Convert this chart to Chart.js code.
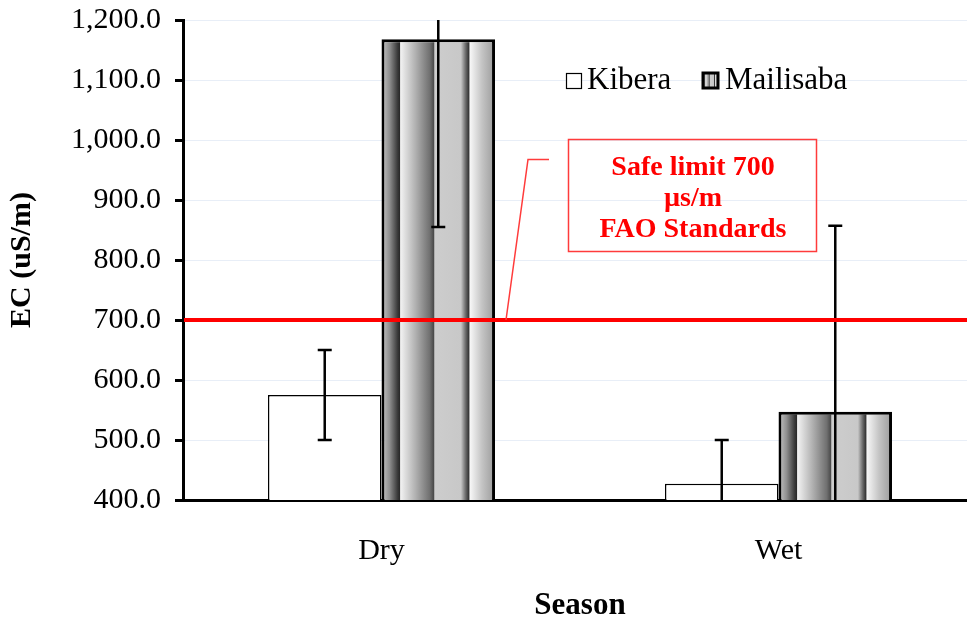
<!DOCTYPE html>
<html>
<head>
<meta charset="utf-8">
<script src="https://cdn.jsdelivr.net/npm/chart.js@4/dist/chart.umd.min.js"></script>
<style>
  html, body { margin: 0; padding: 0; background: #fff; overflow: hidden; }
  #wrap { width: 985px; height: 620px; }
</style>
</head>
<body>
<div id="wrap"><canvas id="c" width="985" height="620"></canvas></div>
<script>
// data
const seasons = ["Dry", "Wet"];
const kibera = [575, 427];
const kiberaLow = [500, 354];
const kiberaHigh = [650, 500];
const mailisaba = [1168, 547];
const mailisabaLow = [855, 237];
const mailisabaHigh = [1481, 857];
const safeLimit = 700;
const calloutLines = ["Safe limit 700", "\u00b5s/m", "FAO Standards"];

const SERIF = "'Liberation Serif', 'Times New Roman', serif";

// striped fill for Mailisaba bars, built across each bar's width
const stripeStops = [
    [0, "#c8c8c8"], [8, "#909090"], [16, "#3a3a3a"], [18, "#2a2a2a"],
    [19, "#f2f2f2"], [34, "#b0b0b0"], [48, "#707070"], [52, "#4a4a4a"],
    [53, "#cdcdcd"], [79, "#c8c8c8"], [84, "#666666"], [87, "#333333"],
    [88, "#f7f7f7"], [100, "#c4c4c4"], [113, "#9a9a9a"]
];

function stripeFill(ctx, x0, w) {
    const g = ctx.createLinearGradient(x0, 0, x0 + w, 0);
    stripeStops.forEach(([p, c]) => g.addColorStop(Math.min(1, p / 113), c));
    return g;
}

// swap the flat grey for the striped gradient once bars have their size
const stripes = {
    id: "stripes",
    beforeDatasetsDraw(chart) {
        chart.getDatasetMeta(1).data.forEach((bar) => {
            const w = bar.width;
            bar.options = Object.assign({}, bar.options, {
                backgroundColor: stripeFill(chart.ctx, bar.x - w / 2, w),
            });
        });
    }
};

const errorBars = {
    id: "errorBars",
    afterDatasetsDraw(chart) {
        const ctx = chart.ctx;
        const y = chart.scales.y;
        const area = chart.chartArea;
        const ranges = [[kiberaLow, kiberaHigh], [mailisabaLow, mailisabaHigh]];
        ctx.save();
        ctx.strokeStyle = "#000";
        ctx.lineWidth = 2.5;
        ranges.forEach(([lo, hi], i) => {
            chart.getDatasetMeta(i).data.forEach((bar, j) => {
                const yl = y.getPixelForValue(lo[j]);
                const yh = y.getPixelForValue(hi[j]);
                const a = Math.max(yh, area.top);
                const b = Math.min(yl, area.bottom);
                ctx.beginPath();
                ctx.moveTo(bar.x, a);
                ctx.lineTo(bar.x, b);
                if (yh >= area.top) { ctx.moveTo(bar.x - 7, yh); ctx.lineTo(bar.x + 7, yh); }
                if (yl <= area.bottom) { ctx.moveTo(bar.x - 7, yl); ctx.lineTo(bar.x + 7, yl); }
                ctx.stroke();
            });
        });
        ctx.restore();
    }
};

const extras = {
    id: "extras",
    afterDraw(chart) {
        const ctx = chart.ctx;
        const area = chart.chartArea;
        const yLine = chart.scales.y.getPixelForValue(safeLimit);
        ctx.save();

        // safe limit line
        ctx.strokeStyle = "#ff0000";
        ctx.lineWidth = 4;
        ctx.beginPath();
        ctx.moveTo(area.left + 1, yLine);
        ctx.lineTo(area.right, yLine);
        ctx.stroke();

        // callout leader + box
        ctx.strokeStyle = "#ff3b3b";
        ctx.lineWidth = 1.5;
        ctx.beginPath();
        ctx.moveTo(506, yLine);
        ctx.lineTo(528, 159.5);
        ctx.lineTo(549, 159.5);
        ctx.stroke();
        ctx.strokeRect(568.5, 139.5, 248, 112);

        ctx.fillStyle = "#ff0000";
        ctx.font = "bold 28px " + SERIF;
        ctx.textAlign = "center";
        ctx.textBaseline = "middle";
        calloutLines.forEach((t, k) => ctx.fillText(t, 693, 168 + k * 31));

        // legend
        ctx.textAlign = "left";
        ctx.font = "31px " + SERIF;
        ctx.strokeStyle = "#000";
        ctx.lineWidth = 1.2;
        ctx.fillStyle = "#fff";
        ctx.fillRect(566.5, 73.5, 15, 15);
        ctx.strokeRect(566.5, 73.5, 15, 15);
        ctx.fillStyle = stripeFill(ctx, 703, 15);
        ctx.fillRect(703, 73, 15, 15);
        ctx.lineWidth = 3;
        ctx.strokeRect(703, 73, 15, 15);
        ctx.fillStyle = "#000";
        ctx.fillText(chart.data.datasets[0].label, 587, 81);
        ctx.fillText(chart.data.datasets[1].label, 725, 81);

        // x title
        ctx.font = "bold 31px " + SERIF;
        ctx.textAlign = "center";
        ctx.fillText("Season", 580, 606);
        ctx.restore();
    }
};

new Chart(document.getElementById("c"), {
    type: "bar",
    data: {
        labels: seasons,
        datasets: [
            {
                label: "Kibera",
                data: kibera,
                backgroundColor: "#ffffff",
                borderColor: "#000",
                borderWidth: 1.5,
                borderSkipped: false,
            },
            {
                label: "Mailisaba",
                data: mailisaba,
                backgroundColor: () => "#bbbbbb",
                borderColor: "#000",
                borderWidth: 3,
                borderSkipped: false,
            },
        ],
    },
    options: {
        responsive: false,
        animation: false,
        events: [],
        layout: { padding: { top: 20, right: 8, left: 0, bottom: 0 } },
        plugins: {
            legend: { display: false },
            tooltip: { enabled: false },
        },
        datasets: {
            bar: { categoryPercentage: 0.572, barPercentage: 1.0 },
        },
        scales: {
            x: {
                grid: { display: false, drawTicks: false },
                border: { color: "#000", width: 3 },
                ticks: { color: "#000", font: { family: SERIF, size: 30 }, padding: 33 },
                afterFit: (s) => { s.height = 120; },
            },
            y: {
                min: 400,
                max: 1200,
                ticks: {
                    stepSize: 100,
                    color: "#000",
                    font: { family: SERIF, size: 30 },
                    padding: 14,
                    callback: (v) => v.toLocaleString("en-US", { minimumFractionDigits: 1, maximumFractionDigits: 1 }),
                },
                grid: { color: "#e8eef7", lineWidth: 1, tickLength: 8, tickColor: "#000", tickWidth: 3 },
                border: { color: "#000", width: 3 },
                title: {
                    display: true,
                    text: "EC (uS/m)",
                    color: "#000",
                    font: { family: SERIF, size: 30, weight: "bold" },
                    padding: { top: 4, bottom: 0 },
                },
                afterFit: (s) => { s.width = 183; s.paddingTop = 0; s.paddingBottom = 0; },
            },
        },
    },
    plugins: [stripes, errorBars, extras],
});
</script>
</body>
</html>
